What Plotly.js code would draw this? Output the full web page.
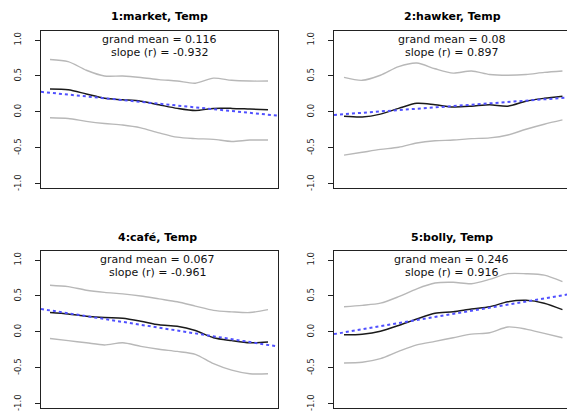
<!DOCTYPE html>
<html>
<head>
<meta charset="utf-8">
<script src="https://cdn.plot.ly/plotly-3.0.1.min.js"></script>
<style>
html,body{margin:0;padding:0;background:#fff;overflow:hidden;}
#chart{width:567px;height:416px;}
</style>
</head>
<body>
<div id="chart"></div>
<script>
// ---- data ----
var steps = [1,2,3,4,5,6,7,8,9,10,11,12,13];
var panelTitles = ["1:market, Temp", "2:hawker, Temp", "4:caf\u00e9, Temp", "5:bolly, Temp"];
var grandMeans = ["0.116", "0.08", "0.067", "0.246"];
var slopes = ["-0.932", "0.897", "-0.961", "0.916"];
var yTickVals = [-1, -0.5, 0, 0.5, 1];
var yTickText = ["-1.0", "-0.5", "0.0", "0.5", "1.0"];

var marketMean  = [0.32, 0.31, 0.25, 0.19, 0.17, 0.15, 0.10, 0.05, 0.02, 0.05, 0.05, 0.04, 0.03];
var marketUpper = [0.73, 0.70, 0.58, 0.50, 0.50, 0.48, 0.45, 0.43, 0.40, 0.47, 0.44, 0.43, 0.43];
var marketLower = [-0.08, -0.09, -0.13, -0.16, -0.18, -0.22, -0.29, -0.35, -0.37, -0.38, -0.41, -0.39, -0.39];
var marketFit   = [0.267, -0.037];

var hawkerMean  = [-0.06, -0.07, -0.03, 0.05, 0.12, 0.10, 0.07, 0.08, 0.10, 0.08, 0.15, 0.19, 0.22];
var hawkerUpper = [0.48, 0.44, 0.51, 0.63, 0.68, 0.60, 0.54, 0.57, 0.52, 0.51, 0.52, 0.55, 0.57];
var hawkerLower = [-0.60, -0.56, -0.52, -0.49, -0.43, -0.40, -0.39, -0.37, -0.36, -0.32, -0.24, -0.17, -0.11];
var hawkerFit   = [-0.03, 0.195];

var cafeMean  = [0.27, 0.25, 0.22, 0.20, 0.19, 0.15, 0.10, 0.08, 0.02, -0.08, -0.12, -0.15, -0.14];
var cafeUpper = [0.65, 0.63, 0.58, 0.55, 0.53, 0.50, 0.46, 0.42, 0.36, 0.30, 0.28, 0.27, 0.31];
var cafeLower = [-0.09, -0.12, -0.15, -0.18, -0.15, -0.20, -0.24, -0.27, -0.31, -0.44, -0.53, -0.58, -0.58];
var cafeFit   = [0.30, -0.18];

var bollyMean  = [-0.04, -0.03, 0.01, 0.09, 0.18, 0.26, 0.28, 0.32, 0.35, 0.42, 0.44, 0.40, 0.31];
var bollyUpper = [0.35, 0.37, 0.40, 0.49, 0.60, 0.68, 0.69, 0.67, 0.73, 0.81, 0.81, 0.79, 0.70];
var bollyLower = [-0.43, -0.42, -0.37, -0.27, -0.18, -0.13, -0.08, -0.03, -0.01, 0.07, 0.04, -0.02, -0.08];
var bollyFit   = [-0.006, 0.51];

// ---- build ----
var W = 567, H = 416;
var panels = [
  {mean: marketMean, up: marketUpper, lo: marketLower, fit: marketFit, box: [41, 278, 31, 188], xr: [0.505, 13.55]},
  {mean: hawkerMean, up: hawkerUpper, lo: hawkerLower, fit: hawkerFit, box: [334, 567, 31, 188], xr: [0.45, 13.25]},
  {mean: cafeMean,   up: cafeUpper,   lo: cafeLower,   fit: cafeFit,   box: [41, 278, 251, 408], xr: [0.505, 13.55]},
  {mean: bollyMean,  up: bollyUpper,  lo: bollyLower,  fit: bollyFit,  box: [334, 567, 251, 408], xr: [0.45, 13.25]}
];
var textCenters = [159.5, 452, 157.5, 451.5];

var traces = [];
var layout = {
  width: W, height: H,
  margin: {l: 0, r: 0, t: 0, b: 0},
  paper_bgcolor: "#ffffff", plot_bgcolor: "#ffffff",
  showlegend: false,
  font: {family: "DejaVu Sans, sans-serif", color: "#000"},
  annotations: []
};

panels.forEach(function(p, i) {
  var n = i + 1;
  var xa = n === 1 ? "x" : "x" + n, ya = n === 1 ? "y" : "y" + n;
  var xk = n === 1 ? "xaxis" : "xaxis" + n, yk = n === 1 ? "yaxis" : "yaxis" + n;
  var common = {xaxis: xa, yaxis: ya, mode: "lines", hoverinfo: "skip"};
  traces.push(Object.assign({x: steps, y: p.up, line: {color: "#b8b8b8", width: 1.4, shape: "spline", smoothing: 0.8}}, common));
  traces.push(Object.assign({x: steps, y: p.lo, line: {color: "#b8b8b8", width: 1.4, shape: "spline", smoothing: 0.8}}, common));
  traces.push(Object.assign({x: steps, y: p.mean, line: {color: "#1a1a1a", width: 1.5, shape: "spline", smoothing: 0.8}}, common));
  // regression line extended across the plot range
  var x0 = steps[0], x1 = steps[steps.length - 1];
  var slope = (p.fit[1] - p.fit[0]) / (x1 - x0);
  var fx = [p.xr[0], p.xr[1]];
  var fy = fx.map(function(v) { return p.fit[0] + slope * (v - x0); });
  traces.push(Object.assign({x: fx, y: fy, line: {color: "#5050ff", width: 2, dash: "dot"}}, common));

  layout[xk] = {
    domain: [p.box[0] / W, p.box[1] / W], range: p.xr, anchor: ya,
    showline: true, mirror: true, linecolor: "#222", linewidth: 1,
    showticklabels: false, ticks: "", showgrid: false, zeroline: false, fixedrange: true
  };
  layout[yk] = {
    domain: [1 - p.box[3] / H, 1 - p.box[2] / H], range: [-1.056, 1.125], anchor: xa,
    showline: true, mirror: true, linecolor: "#222", linewidth: 1,
    tickvals: yTickVals, ticktext: yTickText, ticks: "outside", ticklen: 5, tickcolor: "#222",
    tickangle: -90, tickfont: {size: 8.5, color: "#222", family: "DejaVu Sans, sans-serif"},
    ticklabelstandoff: 11,
    showgrid: false, zeroline: false, fixedrange: true
  };
  var cx = textCenters[i] / W;
  layout.annotations.push({
    xref: "paper", yref: "paper", x: cx, y: 1 - (p.box[2] - 14) / H,
    text: "<b>" + panelTitles[i] + "</b>", showarrow: false, xanchor: "center", yanchor: "middle",
    font: {size: 11, color: "#000", family: "DejaVu Sans, sans-serif"}
  });
  layout.annotations.push({
    xref: "paper", yref: "paper", x: cx, y: 1 - (p.box[2] + 8) / H,
    text: "grand mean = " + grandMeans[i], showarrow: false, xanchor: "center", yanchor: "middle",
    font: {size: 11, color: "#111", family: "DejaVu Sans, sans-serif"}
  });
  layout.annotations.push({
    xref: "paper", yref: "paper", x: cx, y: 1 - (p.box[2] + 21.5) / H,
    text: "slope (r) = " + slopes[i], showarrow: false, xanchor: "center", yanchor: "middle",
    font: {size: 11, color: "#111", family: "DejaVu Sans, sans-serif"}
  });
});

Plotly.newPlot("chart", traces, layout, {staticPlot: true, displayModeBar: false});
</script>
</body>
</html>
